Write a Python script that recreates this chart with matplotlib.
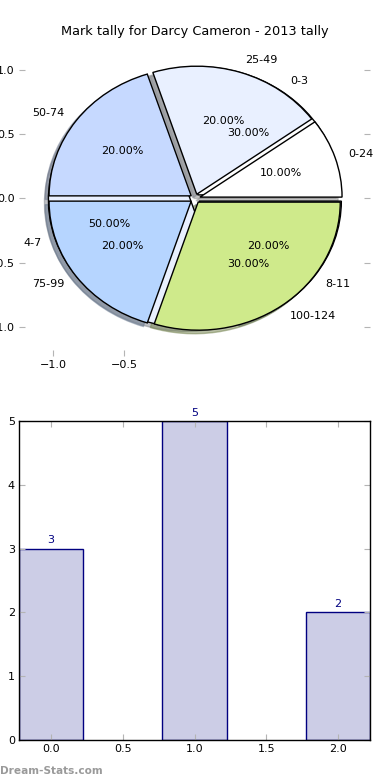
import matplotlib
matplotlib.use("Agg")
import matplotlib.pyplot as plt

# ---- data ----
title = "Mark tally for Darcy Cameron - 2013 tally"
pie1_labels = ["0-24", "25-49", "50-74", "75-99", "100-124"]
pie1_values = [10, 20, 20, 20, 30]
pie2_labels = ["0-3", "4-7", "8-11"]
pie2_values = [30, 50, 20]
pie_colors = ["#ffffff", "#e9f0ff", "#c6d9ff", "#b6d5ff", "#cfea8b"]

bar_x = [0, 1, 2]
bar_values = [3, 5, 2]

W, H = 390, 780
fig = plt.figure(figsize=(W / 100, H / 100), dpi=100)
fig.patch.set_facecolor("white")

tick_grey = "#b4b4b4"

# ---- pie axes ----
axp = fig.add_axes([19 / W, 1 - 356 / H, 351 / W, (356 - 41) / H])
wp = {"edgecolor": "black", "linewidth": 1}
tp = {"fontsize": 8}
shadow = {"ox": -0.02, "oy": -0.02, "shade": 0.45}
axp.pie(pie2_values, labels=pie2_labels, colors=pie_colors[:3],
        explode=[0.035] * len(pie2_values), autopct="%1.2f%%", shadow=shadow,
        wedgeprops=wp, textprops=tp, frame=True)
axp.pie(pie1_values, labels=pie1_labels, colors=pie_colors,
        explode=[0.035] * len(pie1_values), autopct="%1.2f%%", shadow=shadow,
        wedgeprops=wp, textprops=tp, frame=True)
axp.set_aspect("auto")
axp.set_xlim(-1.24, 1.23)
axp.set_ylim(-1.23, 1.23)
axp.set_frame_on(False)
axp.set_xticks([-1.0, -0.5])
axp.set_yticks([-1.0, -0.5, 0.0, 0.5, 1.0])
axp.tick_params(axis="both", direction="in", color=tick_grey, length=4,
                labelsize=8, right=True, left=True, bottom=True, top=False,
                pad=3)
axp.set_title(title, fontsize=9.3, pad=4)

# ---- bar axes ----
axb = fig.add_axes([19 / W, 1 - 740 / H, 351 / W, (740 - 421) / H])
bars = axb.bar(bar_x, bar_values, width=0.446, color="#cccde6",
               edgecolor="#000080", linewidth=1)
for xv, v in zip(bar_x, bar_values):
    axb.text(xv, v + 0.05, str(v), ha="center", va="bottom",
             fontsize=8, color="#000080")
axb.set_xlim(-0.223, 2.223)
axb.set_ylim(0, 5)
axb.set_xticks([0.0, 0.5, 1.0, 1.5, 2.0])
axb.set_yticks([0, 1, 2, 3, 4, 5])
axb.tick_params(axis="both", direction="in", color=tick_grey, length=4,
                labelsize=8, right=True, top=True, pad=3)
for s in axb.spines.values():
    s.set_color("black")
    s.set_linewidth(1)

fig.text(0 / W, 1 - 771 / H, "Dream-Stats.com", fontsize=7.6, fontweight="bold",
         color="#9a9a9a", ha="left", va="center")

fig.savefig("out.png", dpi=100, facecolor="white")
